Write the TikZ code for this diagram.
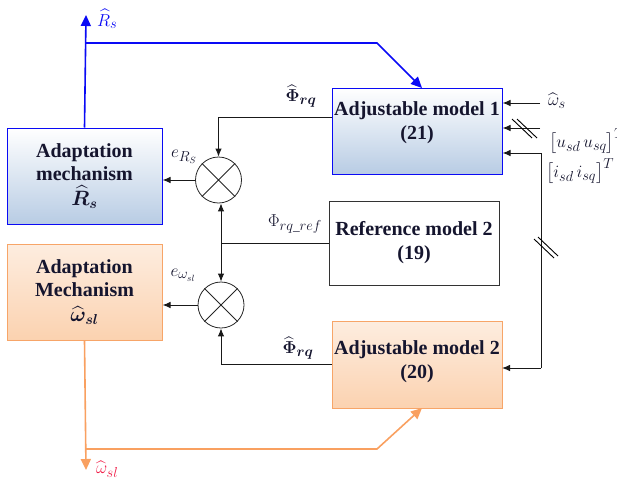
\documentclass[tikz,border=0pt]{standalone}
\usepackage{amsmath}
\usepackage{bm}
\usepackage{fontspec}
\setmainfont{Liberation Serif}
\usetikzlibrary{arrows.meta,calc}
\definecolor{lineblue}{HTML}{0A0AF5}
\definecolor{lineorange}{HTML}{F9A060}
\definecolor{boxorange}{HTML}{F7A568}
\definecolor{shadeblue}{HTML}{B8CCE4}
\definecolor{shadeorange}{HTML}{FBD2B0}
\definecolor{txt}{HTML}{15152E}
\definecolor{labred}{HTML}{F0204A}
\begin{document}
\begin{tikzpicture}[x=1pt,y=-1pt,
  boxtext/.style={font=\fontsize{20}{24}\selectfont\bfseries, text=txt, align=center, inner sep=0pt},
  bluebox/.style={boxtext, draw=lineblue, line width=1pt, top color=white, bottom color=shadeblue},
  orangebox/.style={boxtext, draw=boxorange, line width=1pt, top color=white!60!shadeorange, bottom color=shadeorange},
  plainbox/.style={boxtext, draw=black!80, line width=1pt, fill=white},
  sumc/.style={circle, draw=black!85, line width=0.8pt, minimum size=46pt, inner sep=0pt},
  arr/.style={-{Latex[length=8pt,width=6.5pt]}},
  sig/.style={line width=1pt, draw=black!90},
  lab/.style={font=\fontsize{19}{20}\selectfont, text=txt, inner sep=0pt}
]
\useasboundingbox (0,0) rectangle (617,482);

% boxes
\node[bluebox, minimum width=155pt, minimum height=96pt] (am1) at (84.5,176)
  {Adaptation\\[-1pt] mechanism\\[1pt] $\bm{\widehat{R}_s}$};
\node[orangebox, minimum width=155pt, minimum height=96pt] (am2) at (84.5,292)
  {Adaptation\\[-1pt] Mechanism\\[1pt] $\bm{\widehat{\omega}_{sl}}$};
\node[bluebox, minimum width=170pt, minimum height=86pt, text depth=20pt] (adj1) at (417,131)
  {Adjustable model 1\\(21)};
\node[plainbox, minimum width=170pt, minimum height=84pt] (ref) at (414,243)
  {Reference model 2\\(19)};
\node[orangebox, minimum width=170pt, minimum height=87pt, text depth=10pt] (adj2) at (417,364.5)
  {Adjustable model 2\\(20)};

% summing junctions
\node[sumc] (s1) at (218.5,180) {};
\node[sumc] (s2) at (221,305) {};
\draw[black!85, line width=0.8pt] (s1.north west) -- (s1.south east) (s1.north east) -- (s1.south west);
\draw[black!85, line width=0.8pt] (s2.north west) -- (s2.south east) (s2.north east) -- (s2.south west);

% coordinates
\coordinate (p1) at (332,117);
\coordinate (ws) at (540,103);
\coordinate (us) at (540,128);
\coordinate (is) at (541,153);
\coordinate (is2) at (541,368);
\coordinate (a2in) at (502,368);
\coordinate (rtop) at (86,15);
\coordinate (rbr) at (86,43);
\coordinate (rk) at (377,43);
\coordinate (rend) at (422,88);
\coordinate (wbot) at (86,470);
\coordinate (wbr) at (86,449);
\coordinate (wk) at (377,449);
\coordinate (wend) at (422,408);

% signal lines
\draw[sig, arr] (p1) -| (s1.north);
\draw[sig, arr] (s1.west) -- (s1.west -| am1.east);
\draw[sig, arr] (s2.west) -- (s2.west -| am2.east);
\draw[sig, arr] (adj2.west) -| (s2.south);
\draw[sig, {Latex[length=8pt,width=6.5pt]}-{Latex[length=8pt,width=6.5pt]}] (s1.south -| s2.north) -- (s2.north);
\draw[sig] (ref.west) -- (ref.west -| s2.north);

% right inputs
\draw[sig, arr] (ws) -- (ws -| adj1.east);
\draw[sig, arr] (us) -- (us -| adj1.east);
\draw[sig, arr] (is) -- (is -| adj1.east);
\draw[sig] (is) -- (is2);
\draw[sig, arr] (is2) -- (a2in);
% double slashes
\draw[black, line width=0.9pt] (512,119) -- (532,138) (517,119) -- (537,138);
\draw[black, line width=0.9pt] (534,239) -- (554,258) (538,237) -- (558,256);

% blue feedback
\draw[lineblue, line width=1.6pt, -{Triangle[length=11pt,width=10pt]}] (am1.north) -- (rtop);
\draw[lineblue, line width=1.6pt, -{Triangle[length=11pt,width=10pt]}] (rbr) -- (rk) -- (rend);
% orange feedback
\draw[lineorange, line width=1.6pt, -{Triangle[length=11pt,width=10pt]}] (am2.south) -- (wbot);
\draw[lineorange, line width=1.6pt, -{Triangle[length=11pt,width=10pt]}] (wbr) -- (wk) -- (wend);

% labels
\node[lab, text=lineblue, anchor=west] (lR) at (97,19) {$\widehat{R}_s$};
\node[lab, text=labred, anchor=west] (lW) at (96,469) {$\widehat{\omega}_{sl}$};
\node[lab] (l1) at (301,96) {$\bm{\widehat{\Phi}_{rq}}$};
\node[lab] (l2) at (184,157) {$e_{R_S}$};
\node[lab] (l3) at (295,224) {$\Phi_{rq\_ref}$};
\node[lab] (l4) at (183,275) {$e_{\omega_{sl}}$};
\node[lab] (l5) at (298,348) {$\bm{\widehat{\Phi}_{rq}}$};
\node[lab, anchor=west] (l6) at (548,101) {$\widehat{\omega}_s$};
\node[lab, anchor=west] (l7) at (549,141) {$\bigl[u_{sd}\,u_{sq}\bigr]^T$};
\node[lab, anchor=west] (l8) at (546,171) {$\bigl[i_{sd}\,i_{sq}\bigr]^T$};
\end{tikzpicture}
\end{document}
